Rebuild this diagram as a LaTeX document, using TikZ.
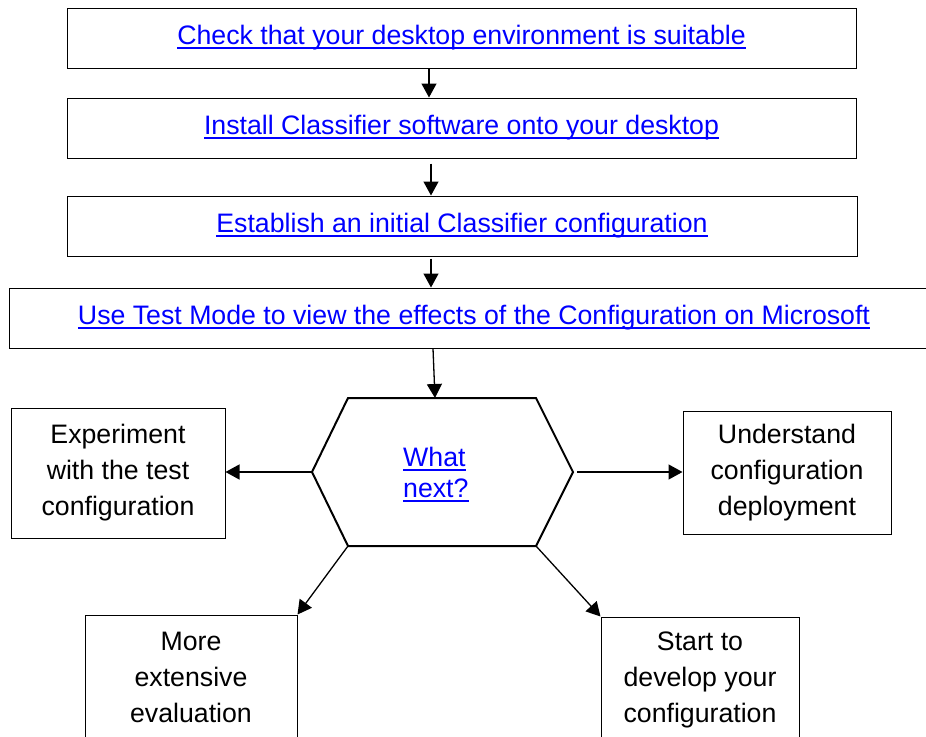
\documentclass[tikz,border=0pt]{standalone}
\usepackage{fontspec}
\setmainfont{Liberation Sans}
\usetikzlibrary{arrows.meta}
\definecolor{linkblue}{RGB}{0,0,255}
\newcommand\lnk[1]{\sbox0{#1}\rlap{\rule[-4.5pt]{\wd0}{1.8pt}}\usebox0}
\tikzset{
  box/.style={draw=black, line width=1pt, inner sep=0pt, rectangle},
  linkbox/.style={box, text=linkblue, text height=19pt, text depth=6pt},
  plainbox/.style={box, align=center, font=\fontsize{26.7}{36}\selectfont},
  hexline/.style={draw=black, line width=2pt, line join=miter},
  arr/.style={draw=black, line width=1.3pt, -{Triangle[width=15pt,length=14pt]}},
}
\begin{document}
\begin{tikzpicture}[x=1pt,y=-1pt, font=\fontsize{26.7}{36}\selectfont]
\useasboundingbox (0,0) rectangle (926,736);
\clip (0,0) rectangle (926,736);
% top chain
\node[linkbox, minimum width=789pt, minimum height=60pt] (b1) at (461.5,38) {\lnk{Check that your desktop environment is suitable}};
\node[linkbox, minimum width=789pt, minimum height=60pt] (b2) at (461.5,128) {\lnk{Install Classifier software onto your desktop}};
\node[linkbox, minimum width=790pt, minimum height=60pt] (b3) at (462,226) {\lnk{Establish an initial Classifier configuration}};
\node[linkbox, minimum width=930pt, minimum height=60pt] (b4) at (474,318) {\lnk{Use Test Mode to view the effects of the Configuration on Microsoft}};
% hexagon
\coordinate (hL) at (312,472);
\coordinate (hTL) at (348,398);
\coordinate (hTR) at (536,398);
\coordinate (hR) at (573,472);
\coordinate (hBR) at (536,546);
\coordinate (hBL) at (348,546);
\coordinate (hT) at (435,398);
\draw[hexline] (hL) -- (hTL) -- (hTR) -- (hR) -- (hBR) -- (hBL) -- cycle;
\node[inner sep=0pt, anchor=north west, align=left, text=linkblue, font=\fontsize{26.7}{31}\selectfont] (what) at (403,447) {\lnk{What}\\\lnk{next?}};
% outcome boxes
\node[plainbox, minimum width=214pt, minimum height=130pt] (expl) at (118,473) {Experiment\\with the test\\configuration};
\node[plainbox, minimum width=208pt, minimum height=123pt] (undr) at (787,472.5) {Understand\\configuration\\deployment};
\node[plainbox, minimum width=212pt, minimum height=124pt] (more) at (191,677) {More\\extensive\\evaluation};
\node[plainbox, minimum width=198pt, minimum height=126pt] (start) at (700,680) {Start to\\develop your\\configuration};
% connectors
\draw[arr] ([xshift=-32.5pt]b1.south) -- ([xshift=-32.5pt]b2.north);
\draw[arr, shorten <=5pt] ([xshift=-30.5pt]b2.south) -- ([xshift=-31pt]b3.north);
\draw[arr, shorten <=2pt] ([xshift=-31pt]b3.south) -- ([xshift=-43pt]b4.north);
\draw[arr] ([xshift=-41pt]b4.south) -- (hT);
\draw[arr] (hL) -- (hL -| expl.east);
\draw[arr, shorten <=4pt] (hR) -- (hR -| undr.west);
\draw[arr] (hBL) -- (more.north east);
\draw[arr] (hBR) -- (start.north west);
\end{tikzpicture}
\end{document}
